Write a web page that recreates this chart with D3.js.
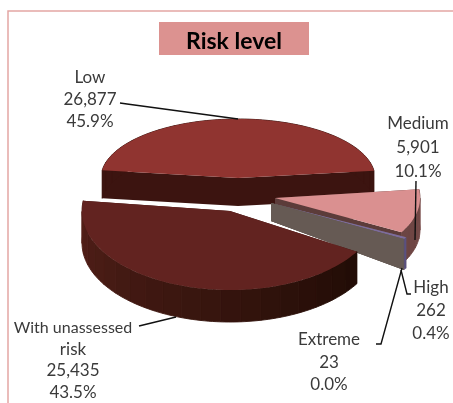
<!DOCTYPE html>
<html>
<head>
<meta charset="utf-8">
<script src="https://cdn.jsdelivr.net/npm/d3@7"></script>
<style>
body { margin: 0; background: #fff; }
text { font-family: Lato, "Open Sans", sans-serif; }
svg { filter: blur(0.35px); }
</style>
</head>
<body>
<svg id="chart" width="453" height="403"></svg>
<script>
// values
const categories = ['Low', 'Medium', 'High', 'Extreme', 'With unassessed risk'];
const counts = [26877, 5901, 262, 23, 25435];

// each exploded slice sits on its own ellipse because of the perspective
const frames = [
    {cx: 238, cy: 178, rx: 137, ry: 59, depth: 28, apexDepth: 28, top: '#903430', cut: '#3c1410', wall: ['#3c1410', '#3c1410'], seam: 0.9},
    {cx: 275, cy: 198, rx: 145, ry: 70, depth: 32, apexDepth: 18, top: '#da9090', cut: '#5c3c3a', wall: ['#7a4c4a', '#6a4442'], seam: 0.9},
    {cx: 271, cy: 203, rx: 155, ry: 70, depth: 31, apexDepth: 18, top: '#7d6c9c', cut: '#665a54', wall: ['#5a5080', '#5a5080'], seam: 0},
    {cx: 271, cy: 203, rx: 155, ry: 70, depth: 31, apexDepth: 18, top: '#7d6c9c', cut: '#665a54', wall: ['#5a5080', '#5a5080'], seam: 0},
    {cx: 230, cy: 211, rx: 148, ry: 79, depth: 32, apexDepth: 32, top: '#622320', cut: '#3c1410', wall: ['#210c05', '#54201a'], seam: 0.9}
];

const labelLines = [
    ['Low'], ['Medium'], ['High'], ['Extreme'], ['With unassessed', 'risk']
];
const labelPos = [
    {x: 90, y: 83, step: 22},
    {x: 418, y: 129, step: 24},
    {x: 431, y: 293, step: 23},
    {x: 329, y: 345, step: 22.5},
    {x: 73, y: 333, step: 21.7}
];
const leaders = [
    [[120, 103], [127, 104], [238, 119]],
    [[416, 181], [415, 240]],
    [[401, 270], [407, 294], [411, 294]],
    [[376, 344], [381, 344], [402, 268]],
    [[139, 326], [176, 317]]
];

const svg = d3.select('#chart');
const total = d3.sum(counts);
const fmtCount = d3.format(',');
const fmtPct = d3.format('.1%');

// frame of the chart area, runs off the right and bottom of the crop
svg.append('rect')
    .attr('x', 8).attr('y', 11)
    .attr('width', 470).attr('height', 420)
    .attr('fill', 'none')
    .attr('stroke', '#e3a6a4')
    .attr('stroke-width', 1.5);

// title
svg.append('rect')
    .attr('x', 159).attr('y', 22)
    .attr('width', 150).attr('height', 33)
    .attr('fill', '#dc9290');
svg.append('text')
    .attr('x', 234).attr('y', 49)
    .attr('text-anchor', 'middle')
    .attr('font-size', 23)
    .attr('font-weight', 700)
    .attr('fill', '#000')
    .text('Risk level');

// d3.pie angles start at north, the Low slice starts just past west
const start = 277.5 * Math.PI / 180;
const pie = d3.pie().sort(null).startAngle(start).endAngle(start + 2 * Math.PI);
const slices = pie(counts);

function point(f, a, drop) {
    return [f.cx + f.rx * Math.sin(a), f.cy - f.ry * Math.cos(a) + (drop || 0)];
}

function arcPoints(f, a0, a1, drop) {
    const n = Math.max(2, Math.ceil(Math.abs(a1 - a0) / 0.03));
    return d3.range(n + 1).map(i => point(f, a0 + (a1 - a0) * i / n, drop));
}

const line = d3.line();
const pies = svg.append('g');

function drawSlice(s, i) {
    const f = frames[i];
    const apex = [f.cx, f.cy];
    const apexLow = [f.cx, f.cy + f.apexDepth];
    const g = pies.append('g').attr('class', 'slice');

    // cut faces first
    [s.startAngle, s.endAngle].forEach(a => {
        g.append('path')
            .attr('d', line([apex, point(f, a), point(f, a, f.depth), apexLow]) + 'Z')
            .attr('fill', f.cut);
    });

    // outer wall as bands, like the stepped shading of the original
    const shade = d3.scaleLinear()
        .domain([s.startAngle, s.endAngle])
        .range(f.wall)
        .interpolate(d3.interpolateRgb);
    const bandStep = 0.14;
    const n = Math.max(1, Math.ceil((s.endAngle - s.startAngle) / bandStep));
    d3.range(n).forEach(k => {
        const a0 = s.startAngle + (s.endAngle - s.startAngle) * k / n;
        const a1 = s.startAngle + (s.endAngle - s.startAngle) * (k + 1) / n;
        const up = arcPoints(f, a0, a1, 0);
        const down = arcPoints(f, a1, a0, f.depth);
        g.append('path')
            .attr('d', line(up.concat(down)) + 'Z')
            .attr('fill', shade((a0 + a1) / 2))
            .attr('stroke', shade((a0 + a1) / 2))
            .attr('stroke-width', f.seam);
    });

    // top face
    g.append('path')
        .attr('d', line([apex].concat(arcPoints(f, s.startAngle, s.endAngle, 0))) + 'Z')
        .attr('fill', f.top);
}

// back to front: Low, Medium, High, Extreme, With unassessed risk
[0, 1, 2, 3, 4].forEach(i => drawSlice(slices[i], i));

// leader lines
svg.append('g').selectAll('path')
    .data(leaders)
    .enter().append('path')
    .attr('d', d => line(d))
    .attr('fill', 'none')
    .attr('stroke', '#111')
    .attr('stroke-width', 1.4);

// data labels: category, value, share
const labels = svg.append('g')
    .attr('font-size', 17)
    .attr('fill', '#3a3a3a')
    .attr('text-anchor', 'middle');

categories.forEach((c, i) => {
    const rows = labelLines[i].concat([fmtCount(counts[i]), fmtPct(counts[i] / total)]);
    const t = labels.append('text').attr('aria-label', c);
    rows.forEach((r, k) => {
        t.append('tspan')
            .attr('x', labelPos[i].x)
            .attr('y', labelPos[i].y + k * labelPos[i].step)
            .attr('font-size', r.length > 12 ? 16 : null)
            .text(r);
    });
});
</script>
</body>
</html>
